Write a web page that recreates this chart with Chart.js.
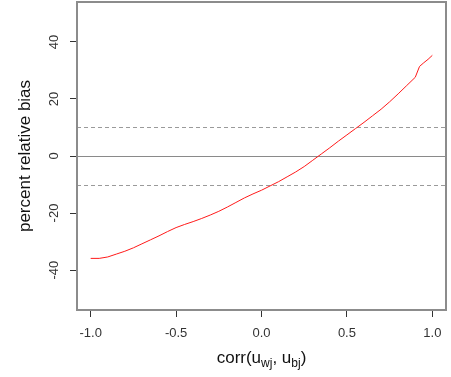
<!DOCTYPE html>
<html>
<head>
<meta charset="utf-8">
<script src="https://cdn.jsdelivr.net/npm/chart.js@4/dist/chart.umd.min.js"></script>
<style>
  html, body { margin: 0; padding: 0; background: #ffffff; }
  #wrap { width: 451px; height: 377px; }
</style>
</head>
<body>
<div id="wrap"><canvas id="graficoSesgo" width="451" height="377"></canvas></div>
<script>
// Correlación entre efectos y sesgo relativo (%)
const corrValues = [-1.0, -0.95, -0.9, -0.85, -0.8, -0.75, -0.7, -0.65, -0.6, -0.55,
  -0.5, -0.45, -0.4, -0.35, -0.3, -0.25, -0.2, -0.15, -0.1, -0.05,
  0, 0.05, 0.1, 0.15, 0.2, 0.25, 0.3, 0.35, 0.4, 0.45,
  0.5, 0.55, 0.6, 0.65, 0.7, 0.75, 0.8, 0.85, 0.9, 0.925, 0.95, 0.975, 1.0];
const biasValues = [-35.9, -35.9, -35.4, -34.4, -33.4, -32.2, -30.8, -29.4, -28.0, -26.5,
  -25.1, -24.0, -23.0, -21.9, -20.7, -19.4, -17.9, -16.3, -14.7, -13.3,
  -12.0, -10.5, -9.0, -7.3, -5.6, -3.7, -1.5, 0.7, 2.9, 5.2,
  7.4, 9.6, 11.8, 14.1, 16.4, 19.0, 21.8, 24.7, 27.6, 31.4, 32.7, 33.9, 35.3];

const xTicks = [-1, -0.5, 0, 0.5, 1];
const yTicks = [-40, -20, 0, 20, 40];
const lineaCero = [0];
const lineasDiscontinuas = [-10, 10];

const FUENTE = "'Liberation Sans', Arial, Helvetica, sans-serif";

// Marco, líneas de referencia y textos que Chart.js no dibuja solo
const decoracion = {
  id: "decoracion",
  beforeDatasetsDraw(chart) {
    const { ctx, chartArea: a, scales } = chart;
    ctx.save();
    ctx.lineWidth = 1;
    ctx.strokeStyle = "#8a8a8a";
    lineaCero.forEach((v) => {
      const y = Math.round(scales.y.getPixelForValue(v)) + 0.5;
      ctx.beginPath();
      ctx.moveTo(a.left, y);
      ctx.lineTo(a.right, y);
      ctx.stroke();
    });
    ctx.strokeStyle = "#9a9a9a";
    ctx.setLineDash([4, 3]);
    lineasDiscontinuas.forEach((v) => {
      const y = Math.round(scales.y.getPixelForValue(v)) + 0.5;
      ctx.beginPath();
      ctx.moveTo(a.left, y);
      ctx.lineTo(a.right, y);
      ctx.stroke();
    });
    ctx.restore();
  },
  afterDraw(chart) {
    const { ctx, chartArea: a, scales } = chart;
    ctx.save();
    // Caja completa alrededor del área de datos
    ctx.strokeStyle = "#8c8c8c";
    ctx.lineWidth = 2;
    ctx.strokeRect(a.left, a.top, a.right - a.left, a.bottom - a.top);

    // Etiquetas del eje Y giradas, como en R
    ctx.fillStyle = "#333333";
    ctx.font = `13px ${FUENTE}`;
    ctx.textAlign = "center";
    ctx.textBaseline = "middle";
    yTicks.forEach((v) => {
      ctx.save();
      ctx.translate(54, scales.y.getPixelForValue(v));
      ctx.rotate(-Math.PI / 2);
      ctx.fillText(String(v), 0, 0);
      ctx.restore();
    });

    // Título del eje X con subíndices
    const partes = [
      { t: "corr(u", sub: false },
      { t: "wj", sub: true },
      { t: ", u", sub: false },
      { t: "bj", sub: true },
      { t: ")", sub: false },
    ];
    const grande = `17px ${FUENTE}`;
    const chica = `12px ${FUENTE}`;
    let total = 0;
    partes.forEach((p) => {
      ctx.font = p.sub ? chica : grande;
      p.w = ctx.measureText(p.t).width;
      total += p.w;
    });
    let x = (a.left + a.right) / 2 - total / 2;
    const base = 363;
    ctx.fillStyle = "#111111";
    ctx.textAlign = "left";
    ctx.textBaseline = "alphabetic";
    partes.forEach((p) => {
      ctx.font = p.sub ? chica : grande;
      ctx.fillText(p.t, x, p.sub ? base + 4 : base);
      x += p.w;
    });
    ctx.restore();
  },
};

const ctx = document.getElementById("graficoSesgo").getContext("2d");
new Chart(ctx, {
  type: "scatter",
  data: {
    datasets: [
      {
        data: corrValues.map((c, i) => ({ x: c, y: biasValues[i] })),
        showLine: true,
        borderColor: "#ff1a1a",
        borderWidth: 1,
        pointRadius: 0,
        tension: 0,
        fill: false,
      },
    ],
  },
  options: {
    responsive: false,
    animation: false,
    devicePixelRatio: 1,
    layout: { padding: { left: 0, top: 2, right: 5, bottom: 0 } },
    plugins: {
      legend: { display: false },
      tooltip: { enabled: false },
    },
    scales: {
      x: {
        type: "linear",
        min: -1.08,
        max: 1.08,
        afterBuildTicks: (scale) => {
          scale.ticks = xTicks.map((v) => ({ value: v }));
        },
        afterFit: (scale) => {
          scale.height = 67;
        },
        border: { display: false },
        grid: {
          drawOnChartArea: false,
          drawTicks: true,
          tickLength: 7,
          tickColor: "#333333",
          tickWidth: 1,
        },
        ticks: {
          color: "#333333",
          font: { family: FUENTE, size: 13 },
          padding: 9,
          maxRotation: 0,
          callback: (v) => v.toFixed(1),
        },
      },
      y: {
        type: "linear",
        min: -54,
        max: 54,
        afterBuildTicks: (scale) => {
          scale.ticks = yTicks.map((v) => ({ value: v }));
        },
        afterFit: (scale) => {
          scale.width = 77;
        },
        border: { display: false },
        grid: {
          drawOnChartArea: false,
          drawTicks: true,
          tickLength: 7,
          tickColor: "#333333",
          tickWidth: 1,
        },
        ticks: { display: false },
        title: {
          display: true,
          text: "percent relative bias",
          color: "#111111",
          font: { family: FUENTE, size: 17 },
          padding: { top: 15, bottom: 0 },
        },
      },
    },
  },
  plugins: [decoracion],
});
</script>
</body>
</html>
